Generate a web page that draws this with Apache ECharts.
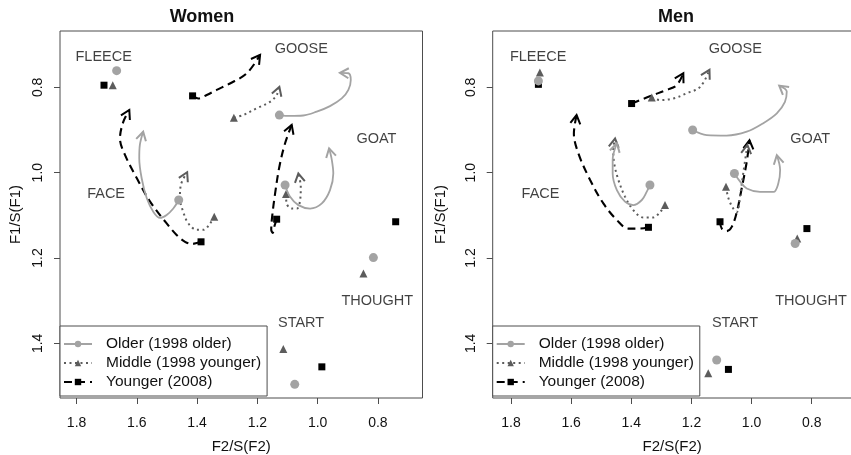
<!DOCTYPE html>
<html><head><meta charset="utf-8">
<script src="https://cdn.jsdelivr.net/npm/echarts@6/dist/echarts.min.js"></script>
<style>html,body{margin:0;padding:0;background:#fff}#c{width:851px;height:455px}</style>
</head><body><div id="c"></div>
<script>
// ---------- data ----------
const panelTitles = ['Women', 'Men'];
const groups = ['Older (1998 older)', 'Middle (1998 younger)', 'Younger (2008)'];
const vowels = ['FLEECE', 'FACE', 'GOOSE', 'GOAT', 'THOUGHT', 'START'];
const labelX = [1.710, 1.702, 1.054, 0.805, 0.802, 1.055];
const labelY = [0.729, 1.050, 0.711, 0.922, 1.300, 1.352];
const xTicks = [1.8, 1.6, 1.4, 1.2, 1.0, 0.8];
const yTicks = [0.8, 1.0, 1.2, 1.4];

// tracks per vowel (order as in `vowels`); first point = marker, last point = arrow tip
const womenOlder = [
  [[1.667, 0.761]],
  [[1.461, 1.064], [1.479, 1.084], [1.501, 1.099], [1.523, 1.106], [1.545, 1.092], [1.567, 1.060], [1.584, 1.013], [1.592, 0.966], [1.590, 0.935], [1.579, 0.904]],
  [[1.127, 0.865], [1.092, 0.867], [1.048, 0.866], [1.003, 0.857], [0.959, 0.844], [0.920, 0.826], [0.898, 0.806], [0.890, 0.783], [0.898, 0.767], [0.926, 0.766]],
  [[1.108, 1.029], [1.092, 1.056], [1.064, 1.076], [1.025, 1.084], [0.986, 1.072], [0.959, 1.041], [0.948, 1.002], [0.953, 0.970], [0.962, 0.943]],
  [[0.815, 1.199]],
  [[1.076, 1.496]]
];
const womenMiddle = [
  [[1.680, 0.795]],
  [[1.343, 1.103], [1.357, 1.119], [1.379, 1.134], [1.401, 1.134], [1.429, 1.119], [1.446, 1.092], [1.457, 1.060], [1.454, 1.029], [1.433, 0.999]],
  [[1.278, 0.871], [1.247, 0.865], [1.202, 0.849], [1.158, 0.834], [1.136, 0.818], [1.127, 0.799]],
  [[1.105, 1.050], [1.103, 1.072], [1.086, 1.084], [1.069, 1.084], [1.058, 1.064], [1.056, 1.033], [1.064, 1.002]],
  [[0.848, 1.236]],
  [[1.114, 1.413]]
];
const womenYounger = [
  [[1.709, 0.795]],
  [[1.387, 1.162], [1.418, 1.167], [1.440, 1.162], [1.468, 1.146], [1.501, 1.119], [1.556, 1.068], [1.600, 1.013], [1.639, 0.959], [1.656, 0.920], [1.645, 0.881], [1.625, 0.853]],
  [[1.415, 0.820], [1.396, 0.826], [1.368, 0.818], [1.335, 0.806], [1.291, 0.791], [1.235, 0.767], [1.191, 0.724]],
  [[1.136, 1.109], [1.144, 1.127], [1.149, 1.141], [1.154, 1.134], [1.151, 1.103], [1.141, 1.048], [1.127, 0.986], [1.108, 0.931], [1.086, 0.888]],
  [[0.741, 1.115]],
  [[0.986, 1.455]]
];
const menOlder = [
  [[1.709, 0.785]],
  [[1.338, 1.029], [1.349, 1.045], [1.365, 1.064], [1.393, 1.076], [1.421, 1.068], [1.448, 1.041], [1.462, 1.002], [1.462, 0.970], [1.448, 0.931]],
  [[1.196, 0.900], [1.149, 0.912], [1.083, 0.913], [1.016, 0.904], [0.961, 0.884], [0.916, 0.861], [0.889, 0.834], [0.883, 0.810], [0.908, 0.796]],
  [[1.057, 1.002], [1.038, 1.021], [1.016, 1.037], [0.972, 1.045], [0.927, 1.045], [0.911, 1.025], [0.905, 0.994], [0.916, 0.959]],
  [[0.855, 1.166]],
  [[1.116, 1.439]]
];
const menMiddle = [
  [[1.704, 0.765]],
  [[1.288, 1.076], [1.304, 1.092], [1.327, 1.105], [1.360, 1.105], [1.393, 1.088], [1.421, 1.056], [1.443, 1.017], [1.457, 0.978], [1.460, 0.947], [1.454, 0.920]],
  [[1.332, 0.824], [1.304, 0.830], [1.260, 0.826], [1.216, 0.814], [1.171, 0.799], [1.140, 0.759]],
  [[1.085, 1.033], [1.077, 1.060], [1.061, 1.084], [1.049, 1.092], [1.038, 1.052], [1.027, 0.998], [1.014, 0.935]],
  [[0.848, 1.154]],
  [[1.144, 1.470]]
];
const menYounger = [
  [[1.709, 0.793]],
  [[1.343, 1.128], [1.371, 1.131], [1.410, 1.131], [1.448, 1.111], [1.493, 1.072], [1.537, 1.017], [1.576, 0.955], [1.591, 0.908], [1.582, 0.865]],
  [[1.399, 0.838], [1.371, 0.830], [1.327, 0.818], [1.282, 0.806], [1.249, 0.795], [1.227, 0.767]],
  [[1.105, 1.115], [1.099, 1.131], [1.083, 1.137], [1.066, 1.127], [1.049, 1.092], [1.033, 1.037], [1.016, 0.974], [1.007, 0.924]],
  [[0.816, 1.131]],
  [[1.077, 1.461]]
];

// ---------- styling ----------
const FONT = '"Liberation Sans", Arial, Helvetica, sans-serif';
const TXT = '#111111';
const groupStyle = [
  { color: '#a3a3a3', symbol: 'circle', size: 9, type: 'solid', width: 1.8, z: 5 },
  { color: '#5c5c5c', symbol: 'triangle', size: 8, type: [2, 3.5], width: 2, z: 4 },
  { color: '#000000', symbol: 'rect', size: 7, type: [8, 5], width: 2.1, z: 3 }
];
const panels = [
  { tracks: [womenOlder, womenMiddle, womenYounger], left: 60, width: 362.5, xMin: 0.652, xMax: 1.855, yNameGap: 37, titleX: 202 },
  { tracks: [menOlder, menMiddle, menYounger], left: 492.7, width: 359, xMin: 0.667, xMax: 1.861, yNameGap: 44, titleX: 676 }
];
const GRID_TOP = 31, GRID_H = 367, Y_MIN = 0.668, Y_MAX = 1.528;

function lineSeries(tracks, gi, pi) {
  const s = groupStyle[gi];
  const data = [];
  tracks.forEach((t, k) => {
    if (k > 0) data.push(['-', '-']);
    t.forEach((p, i) => data.push(i === 0 ? { value: p, symbol: s.symbol, symbolSize: s.size } : { value: p, symbol: 'none' }));
  });
  return {
    type: 'line', name: groups[gi], xAxisIndex: pi, yAxisIndex: pi, data,
    smooth: 0.35, connectNulls: false, symbol: s.symbol, symbolSize: s.size, showSymbol: true,
    itemStyle: { color: s.color, opacity: 1 },
    lineStyle: { color: s.color, width: s.width, type: s.type },
    z: s.z, silent: true, animation: false, emphasis: { disabled: true }
  };
}
function arrowSeries(tracks, gi, pi) {
  const s = groupStyle[gi];
  const data = tracks.filter(t => t.length > 1).map(t => {
    const a = t[t.length - 1], b = t[t.length - 2];
    return [a[0], a[1], b[0], b[1]];
  });
  return {
    type: 'custom', name: 'arrows-' + pi + '-' + gi, xAxisIndex: pi, yAxisIndex: pi, data,
    encode: { x: [0, 2], y: [1, 3] }, silent: true, animation: false, z: s.z,
    renderItem: (params, api) => {
      const tip = api.coord([api.value(0), api.value(1)]);
      const prev = api.coord([api.value(2), api.value(3)]);
      const ang = Math.atan2(tip[1] - prev[1], tip[0] - prev[0]);
      const L = 10, A = Math.PI / 6;
      const a1 = [tip[0] - L * Math.cos(ang - A), tip[1] - L * Math.sin(ang - A)];
      const a2 = [tip[0] - L * Math.cos(ang + A), tip[1] - L * Math.sin(ang + A)];
      return { type: 'polyline', shape: { points: [a1, tip, a2] }, style: { stroke: s.color, lineWidth: 2, fill: null } };
    }
  };
}

const option = { animation: false, backgroundColor: '#fff', title: [], grid: [], xAxis: [], yAxis: [], legend: [], series: [] };
panels.forEach((P, pi) => {
  option.title.push({ text: panelTitles[pi], left: P.titleX, top: 8, textAlign: 'center', padding: 0,
    textStyle: { fontFamily: FONT, fontSize: 18, fontWeight: 'bold', color: TXT } });
  option.grid.push({ left: P.left, top: GRID_TOP, width: P.width, height: GRID_H, show: true,
    outerBoundsMode: 'none', containLabel: false,
    borderColor: '#4d4d4d', borderWidth: 1, backgroundColor: 'transparent' });
  option.xAxis.push({ gridIndex: pi, type: 'value', inverse: true, min: P.xMin, max: P.xMax,
    splitLine: { show: false }, axisLine: { show: false },
    axisTick: { show: true, length: 6, customValues: xTicks, lineStyle: { color: '#4d4d4d' } },
    axisLabel: { customValues: xTicks, formatter: v => v.toFixed(1), fontFamily: FONT, fontSize: 14, color: TXT, margin: 18 },
    name: 'F2/S(F2)', nameLocation: 'middle', nameGap: 41,
    nameTextStyle: { fontFamily: FONT, fontSize: 15, color: TXT } });
  option.yAxis.push({ gridIndex: pi, type: 'value', inverse: true, min: Y_MIN, max: Y_MAX,
    splitLine: { show: false }, axisLine: { show: false },
    axisTick: { show: true, length: 6, customValues: yTicks, lineStyle: { color: '#4d4d4d' } },
    axisLabel: { customValues: yTicks, formatter: v => v.toFixed(1), rotate: 90, fontFamily: FONT, fontSize: 14, color: TXT, margin: 15 },
    name: 'F1/S(F1)', nameLocation: 'middle', nameRotate: 90, nameGap: P.yNameGap,
    nameTextStyle: { fontFamily: FONT, fontSize: 15, color: TXT } });
  option.legend.push({ data: groups, orient: 'vertical', left: P.left, top: 326,
    itemWidth: 28, itemHeight: 8, itemGap: 1, padding: [9, 6, 5, 3], selectedMode: false,
    borderColor: '#4d4d4d', borderWidth: 1, borderRadius: 0, backgroundColor: '#fff',
    textStyle: { fontFamily: FONT, fontSize: 15.5, color: TXT, padding: [0, 0, 0, 9], lineHeight: 18 } });
  [2, 1, 0].forEach(gi => {
    option.series.push(lineSeries(P.tracks[gi], gi, pi));
    option.series.push(arrowSeries(P.tracks[gi], gi, pi));
  });
  option.series.push({ type: 'scatter', name: 'vowels-' + pi, xAxisIndex: pi, yAxisIndex: pi, silent: true,
    symbolSize: 0, z: 6,
    data: vowels.map((v, i) => ({ name: v, value: [labelX[i], labelY[i]] })),
    label: { show: true, position: 'inside', formatter: '{b}', fontFamily: FONT, fontSize: 14.5, color: TXT,
      textBorderWidth: 0, textBorderColor: 'transparent' } });
});
const chart = echarts.init(document.getElementById('c'), null, { renderer: 'canvas' });
chart.setOption(option);
</script></body></html>
